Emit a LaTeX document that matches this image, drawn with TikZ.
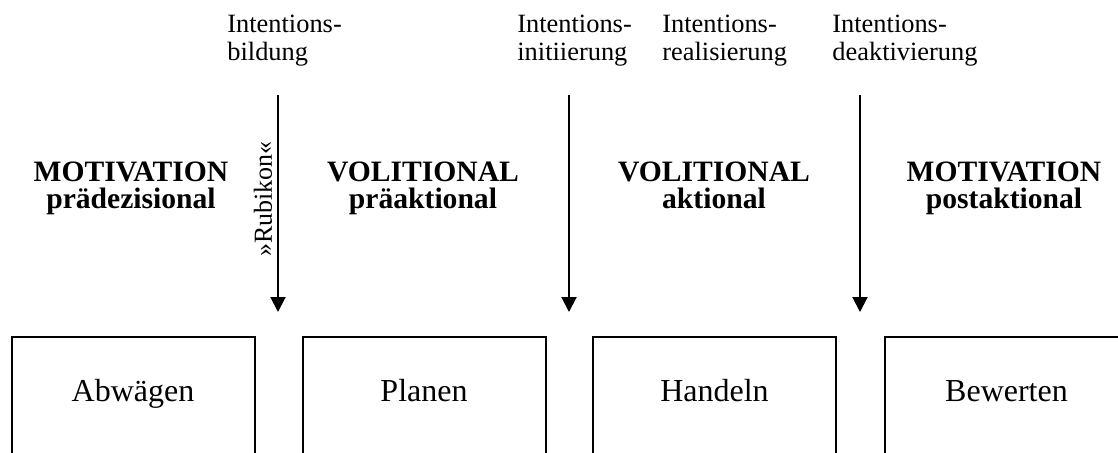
\documentclass[tikz,border=0pt]{standalone}
\usepackage{fontspec}
\setmainfont{Liberation Serif}
\usetikzlibrary{arrows.meta}

\tikzset{
  phase/.style={draw,line width=1pt,anchor=north,minimum width=121.5pt,
    text height=10pt,text depth=10pt,inner xsep=0pt,inner ysep=22pt,
    font=\fontsize{16}{18}\selectfont},
  head/.style={anchor=north,align=center,inner sep=0pt,
    font=\fontsize{14.8}{13.6}\selectfont\bfseries},
  intent/.style={anchor=north west,align=left,inner sep=0pt,
    font=\fontsize{13.2}{14}\selectfont},
  pfeil/.style={line width=1pt,-{Triangle[length=7.5pt,width=7.5pt]}}
}

\begin{document}
\begin{tikzpicture}[x=0.5pt,y=-0.5pt]
  \useasboundingbox (0,0) rectangle (1118,452);
  \clip (0,0) rectangle (1118,452);
  % Handlungsphasen
  \node[phase] (abwaegen) at (133,336) {Abwägen};
  \node[phase] (planen) at (424,336) {Planen};
  \node[phase] (handeln) at (714.5,336) {Handeln};
  \node[phase] (bewerten) at (1006.5,336) {Bewerten};
  \node[head] (h1) at (131,161) {MOTIVATION\\prädezisional};
  \node[head] (h2) at (423,161) {VOLITIONAL\\präaktional};
  \node[head] (h3) at (714,161) {VOLITIONAL\\aktional};
  \node[head] (h4) at (1004,161) {MOTIVATION\\postaktional};
  % Uebergaenge
  \node[intent] (i1) at (227,15) {Intentions-\\bildung};
  \node[intent] (i2) at (517,15) {Intentions-\\initiierung};
  \node[intent] (i3) at (662,15) {Intentions-\\realisierung};
  \node[intent] (i4) at (832,15) {Intentions-\\deaktivierung};
  \coordinate (a1) at (278,95);
  \coordinate (b1) at (278,312);
  \coordinate (a2) at (569,95);
  \coordinate (b2) at (569,312);
  \coordinate (a3) at (860,95);
  \coordinate (b3) at (860,312);
  \draw[pfeil] (a1) -- (b1);
  \draw[pfeil] (a2) -- (b2);
  \draw[pfeil] (a3) -- (b3);
  \node[rotate=90,inner sep=0pt,font=\fontsize{13}{12}\selectfont] (rubikon) at (263,199) {»Rubikon«};
\end{tikzpicture}
\end{document}
